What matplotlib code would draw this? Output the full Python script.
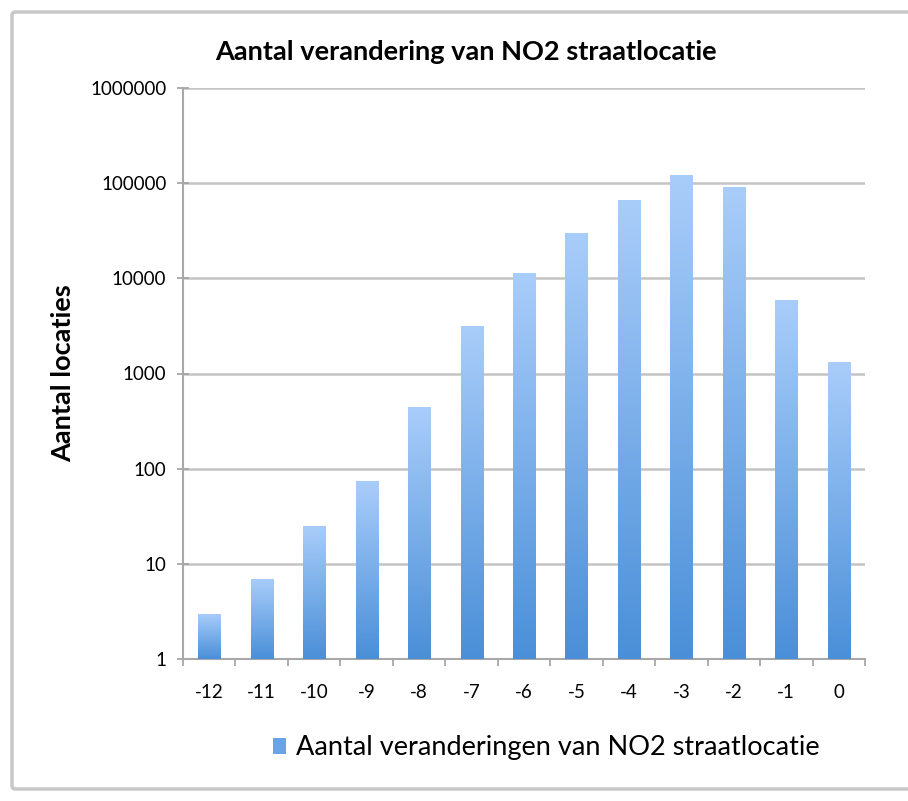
import matplotlib.pyplot as plt
import numpy as np
from matplotlib.patches import FancyBboxPatch, Patch
from matplotlib.colors import LinearSegmentedColormap
from matplotlib.ticker import FixedLocator, FuncFormatter

plt.rcParams['font.family'] = ['Lato', 'DejaVu Sans']

categories = ['-12', '-11', '-10', '-9', '-8', '-7', '-6', '-5', '-4', '-3', '-2', '-1', '0']
counts = [3, 7, 25, 74, 440, 3150, 11300, 29800, 66000, 121000, 91000, 5900, 1320]
series_name = 'Aantal veranderingen van NO2 straatlocatie'

fig = plt.figure(figsize=(9.08, 8.01), dpi=100)
fig.patch.set_facecolor('white')

# outer frame like the spreadsheet chart border
frame = FancyBboxPatch((12 / 908, 12 / 801), 1.02, 1 - 24 / 801,
                       boxstyle='round,pad=0,rounding_size=0.004',
                       transform=fig.transFigure, facecolor='none',
                       edgecolor='#c8c8c8', linewidth=2.5, clip_on=False)
fig.patches.append(frame)

ax = fig.add_axes([183 / 908, 1 - 659 / 801, (865 - 183) / 908, (659 - 88) / 801])
x = np.arange(len(categories))
bars = ax.bar(x, counts, width=0.42, color='none', edgecolor='none', zorder=3)

ax.set_yscale('log')
ax.set_xlim(-0.5, len(categories) - 0.5)
ax.set_ylim(1, 1000000)

# vertical gradient inside every bar, linear in screen space
cmap = LinearSegmentedColormap.from_list('bluegrad', ['#4a8fd8', '#a9cdfa'])
grad = np.linspace(0, 1, 256).reshape(-1, 1)
to_axes = ax.transData + ax.transAxes.inverted()
for b in bars:
    (ax0, ay0), (ax1, ay1) = to_axes.transform(
        [(b.get_x(), 1), (b.get_x() + b.get_width(), b.get_height())])
    im = ax.imshow(grad, cmap=cmap, origin='lower', aspect='auto',
                   extent=(ax0, ax1, ay0, ay1), transform=ax.transAxes,
                   zorder=3, interpolation='bilinear')
    im.set_clip_path(b)
ax.set_xlim(-0.5, len(categories) - 0.5)
ax.set_ylim(1, 1000000)

ax.yaxis.set_major_locator(FixedLocator([1, 10, 100, 1000, 10000, 100000, 1000000]))
ax.yaxis.set_minor_locator(FixedLocator([]))
ax.yaxis.set_major_formatter(FuncFormatter(lambda v, p: f'{int(round(v))}'))
ax.set_xticks(x)
ax.set_xticklabels(categories)
ax.set_xticks(np.arange(-0.5, len(categories)), minor=True)
ax.tick_params(axis='x', which='major', length=0, pad=18, labelsize=13.5)
ax.tick_params(axis='x', which='minor', length=5, color='#a0a0a0', width=1.2)
ax.tick_params(axis='y', direction='inout', length=8, color='#a0a0a0', width=1.2,
               labelsize=13.5, pad=8)

ax.grid(axis='y', color='#c4c4c4', linewidth=1.8, zorder=0)
ax.set_axisbelow(True)
for s in ['top', 'right']:
    ax.spines[s].set_visible(False)
for s in ['left', 'bottom']:
    ax.spines[s].set_color('#a8a8a8')
    ax.spines[s].set_linewidth(1.5)

fig.text(466 / 908, 1 - 52 / 801, 'Aantal verandering van NO2 straatlocatie',
         ha='center', va='center', fontsize=19.5, fontweight='bold')
fig.text(63 / 908, 1 - 373 / 801, 'Aantal locaties', rotation=90,
         ha='center', va='center', fontsize=19.5, fontweight='bold')

handle = Patch(facecolor='#6aa3e6', edgecolor='none')
fig.legend([handle], [series_name], loc='center', bbox_to_anchor=(546 / 908, 1 - 748 / 801),
           frameon=False, fontsize=19.5, handlelength=0.5, handleheight=0.5,
           handletextpad=0.35)

fig.savefig('out.png', dpi=100)
